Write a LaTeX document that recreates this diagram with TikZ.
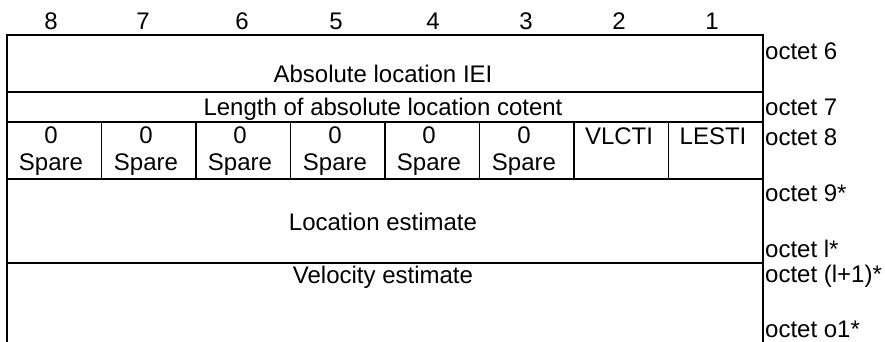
\documentclass[tikz,border=0pt]{standalone}
\usepackage{fontspec}
\setmainfont{Liberation Sans}
\begin{document}
\begin{tikzpicture}[x=1pt,y=-1pt,
  txt/.style={font=\fontsize{24}{28}\selectfont, inner sep=0pt, anchor=base},
  rl/.style={txt, anchor=base west},
  gridline/.style={line width=1.6pt}]
\useasboundingbox (0,0) rectangle (885,342);
% frame and rows
\draw[gridline] (7,342) -- (7,35) -- (763,35) -- (763,342);
\draw[gridline] (7,92) -- (763,92);
\draw[gridline] (7,122) -- (763,122);
\draw[gridline] (7,179) -- (763,179);
\draw[gridline] (7,263) -- (763,263);
\foreach \x in {101.5,196,290.5,385,479.5,574,668.5}
  \draw[gridline] (\x,122) -- (\x,179);
% bit numbers
\foreach \n/\x in {8/51,7/143,6/242,5/336,4/433,3/526,2/619,1/712}
  \node[txt] (bit\n) at (\x,30) {\n};
% fields
\node[txt] (iei) at (383,83) {Absolute location IEI};
\node[txt] (len) at (383,115) {Length of absolute location cotent};
\foreach \i/\x in {8/51,7/146,6/240,5/335,4/429,3/524}{
  \node[txt] (z\i) at (\x,143) {0};
  \node[txt] (s\i) at (\x,170) {Spare};
}
\node[txt] (vlcti) at (619,144) {VLCTI};
\node[txt] (lesti) at (713,144) {LESTI};
\node[txt] (loc) at (383,230) {Location estimate};
\node[txt] (vel) at (383,283) {Velocity estimate};
% octet labels
\node[rl] (o6) at (765,60) {octet 6};
\node[rl] (o7) at (765,115) {octet 7};
\node[rl] (o8) at (765,145) {octet 8};
\node[rl] (o9) at (765,201) {octet 9*};
\node[rl] (ol) at (765,257) {octet l*};
\node[rl] (ol1) at (765,282) {octet (l+1)*};
\node[rl] (oo1) at (765,337) {octet o1*};
\end{tikzpicture}
\end{document}
